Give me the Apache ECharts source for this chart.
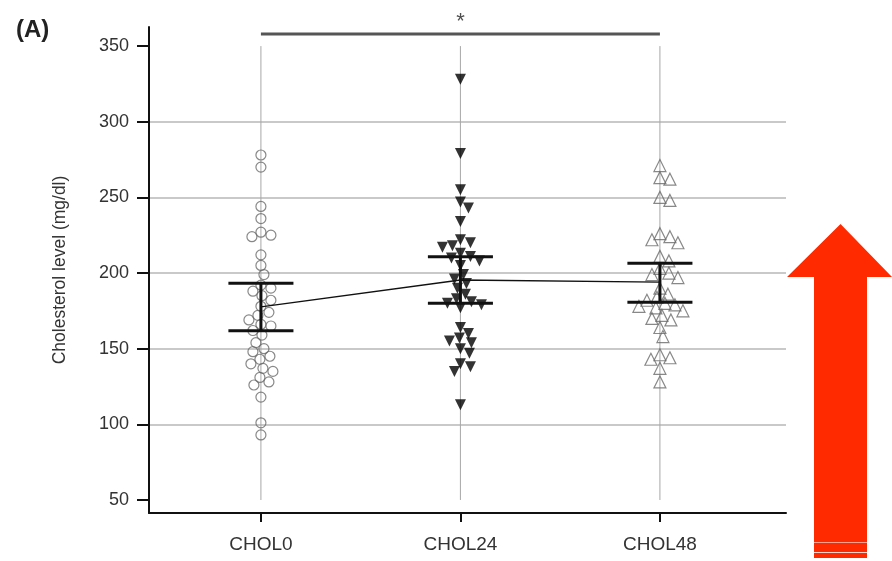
<!DOCTYPE html>
<html>
<head>
<meta charset="utf-8">
<script src="https://cdn.jsdelivr.net/npm/echarts@6/dist/echarts.min.js"></script>
<style>
  html, body { margin: 0; padding: 0; background: #fff; }
  #chart { width: 892px; height: 561px; }
</style>
</head>
<body>
<div id="chart"></div>
<script>
// ---- data -------------------------------------------------------------
const categories = ['CHOL0', 'CHOL24', 'CHOL48'];
const yTicks = [50, 100, 150, 200, 250, 300, 350];

const chol0 = [278, 270, 244, 236, 227, 225, 224, 212, 205, 199, 192, 190, 188, 185,
  182, 178, 174, 172, 169, 166, 165, 162, 159, 154, 150, 148, 145, 143, 140, 137,
  135, 131, 128, 126, 118, 101, 93];
const chol24 = [328, 279, 255, 247, 243, 234, 222, 220, 218, 217, 213, 211, 210, 208,
  205, 199, 196, 193, 190, 186, 183, 181, 180, 179, 177, 164, 160, 157, 155, 154,
  150, 147, 140, 138, 135, 113];
const chol48 = [271, 263, 262, 250, 248, 226, 224, 222, 220, 211, 208, 203, 200, 199,
  197, 190, 186, 184, 182, 180, 179, 178, 177, 175, 172, 170, 169, 164, 158, 146,
  144, 143, 137, 128];

// group means and confidence limits
const groupMeans = [177.6, 195.4, 194.0];
const ciLow = [161.9, 180.0, 180.7];
const ciHigh = [193.2, 210.8, 206.4];

// significance bracket between first and last group
const sigFrom = 0;
const sigTo = 2;
const sigLevel = 358;
const sigText = '*';

// ---- chart ------------------------------------------------------------
const FONT = 'Liberation Sans, Arial, Helvetica, sans-serif';
const groups = [chol0, chol24, chol48];
const markerStyles = [
  { symbol: 'circle', size: 10, rotate: 0, color: 'rgba(255,255,255,0)', border: '#6a6a6a' },
  { symbol: 'triangle', size: 11, rotate: 180, color: '#000', border: '#000' },
  { symbol: 'triangle', size: 12, rotate: 0, color: 'rgba(255,255,255,0)', border: '#6a6a6a' }
];

const chart = echarts.init(document.getElementById('chart'), null, { renderer: 'canvas' });

const capHalf = 0.163; // half width of error-bar caps, in category units

function baseOption(pointSeries) {
  return {
    animation: false,
    backgroundColor: '#fff',
    textStyle: { fontFamily: FONT },
    title: {
      text: '(A)', left: 11, top: 13,
      textStyle: { fontFamily: FONT, fontSize: 24, fontWeight: 'bold', color: '#222' }
    },
    grid: { left: 149, right: 106, top: 27, bottom: 48, containLabel: false },
    xAxis: {
      type: 'value', min: -0.561, max: 2.632,
      axisLine: { show: true, onZero: false, lineStyle: { color: '#111', width: 2 } },
      axisTick: { show: true, length: 9, customValues: categories.map((c, i) => i),
        lineStyle: { color: '#111', width: 2 } },
      axisLabel: { show: true, customValues: categories.map((c, i) => i),
        formatter: v => categories[Math.round(v)] || '', margin: 22,
        fontFamily: FONT, fontSize: 19, color: '#333' },
      splitLine: { show: false }
    },
    yAxis: {
      type: 'value', min: 41.4, max: 362.6,
      name: 'Cholesterol level (mg/dl)', nameLocation: 'middle', nameGap: 80,
      nameTextStyle: { fontFamily: FONT, fontSize: 17.5, color: '#333' },
      axisLine: { show: true, onZero: false, lineStyle: { color: '#111', width: 2 } },
      axisTick: { show: true, length: 12, customValues: yTicks,
        lineStyle: { color: '#111', width: 2 } },
      axisLabel: { show: true, customValues: yTicks, margin: 20,
        fontFamily: FONT, fontSize: 18, color: '#333' },
      splitLine: { show: true, showMinLine: false, showMaxLine: false,
        lineStyle: { color: '#c9c9c9', width: 2 } }
    },
    graphic: [
      {
        type: 'polygon', z: 100,
        shape: { points: [[840.5, 224], [892, 277], [867, 277], [867, 558], [814, 558], [814, 277], [787, 277]] },
        style: { fill: '#ff2a00' }
      },
      { type: 'line', z: 101, shape: { x1: 814, y1: 542.5, x2: 867, y2: 542.5 },
        style: { stroke: '#ff9f90', lineWidth: 1 } },
      { type: 'line', z: 101, shape: { x1: 814, y1: 552.5, x2: 867, y2: 552.5 },
        style: { stroke: '#ffd2cb', lineWidth: 1 } }
    ],
    series: [
      // vertical guide line through each group
      {
        type: 'custom', z: 1, silent: true,
        data: categories.map((c, i) => [i, yTicks[0], yTicks[yTicks.length - 1]]),
        renderItem: (params, api) => {
          const a = api.coord([api.value(0), api.value(1)]);
          const b = api.coord([api.value(0), api.value(2)]);
          return { type: 'line', shape: { x1: a[0], y1: a[1], x2: b[0], y2: b[1] },
            style: { stroke: '#a8a8a8', lineWidth: 1 } };
        }
      },
      ...pointSeries,
      // line joining the group means
      {
        type: 'line', z: 5, symbol: 'none',
        data: categories.map((c, i) => [i, groupMeans[i]]),
        lineStyle: { color: '#111', width: 1.3 }
      },
      // confidence-interval bars
      {
        type: 'custom', z: 6, silent: true,
        data: categories.map((c, i) => [i, ciLow[i], ciHigh[i]]),
        renderItem: (params, api) => {
          const x = api.value(0);
          const lo = api.coord([x, api.value(1)]);
          const hi = api.coord([x, api.value(2)]);
          const l = api.coord([x - capHalf, api.value(1)])[0];
          const r = api.coord([x + capHalf, api.value(1)])[0];
          const st = { stroke: '#111', lineWidth: 3 };
          return { type: 'group', children: [
            { type: 'line', shape: { x1: lo[0], y1: lo[1], x2: hi[0], y2: hi[1] }, style: st },
            { type: 'line', shape: { x1: l, y1: lo[1], x2: r, y2: lo[1] }, style: st },
            { type: 'line', shape: { x1: l, y1: hi[1], x2: r, y2: hi[1] }, style: st }
          ] };
        }
      },
      // significance bracket
      {
        type: 'line', z: 5, symbol: 'none',
        data: [[sigFrom, sigLevel], [sigTo, sigLevel]],
        lineStyle: { color: '#555', width: 3 }
      },
      {
        type: 'scatter', z: 5, symbolSize: 0,
        data: [[(sigFrom + sigTo) / 2, sigLevel]],
        label: { show: true, position: 'top', distance: 1, formatter: sigText,
          fontFamily: FONT, fontSize: 22, color: '#222' }
      }
    ]
  };
}

function pointSeriesFor(xs) {
  return groups.map((vals, g) => ({
    type: 'scatter', z: 3,
    symbol: markerStyles[g].symbol,
    symbolSize: markerStyles[g].size,
    symbolRotate: markerStyles[g].rotate,
    itemStyle: { color: markerStyles[g].color, borderColor: markerStyles[g].border,
      borderWidth: g === 1 ? 0 : 1.2 },
    data: vals.map((v, k) => [xs[g][k], v])
  }));
}

// first pass: points centred on their group
chart.setOption(baseOption(pointSeriesFor(groups.map((vals, g) => vals.map(() => g)))));

// second pass: spread overlapping points sideways (simple beeswarm in pixel space)
function swarm(vals, g, diam) {
  const px0 = chart.convertToPixel({ gridIndex: 0 }, [g, 0])[0];
  const unit = chart.convertToPixel({ gridIndex: 0 }, [g + 1, 0])[0] - px0;
  const order = vals.map((v, i) => i).sort((a, b) => vals[b] - vals[a]);
  const placed = [];
  const xs = new Array(vals.length);
  order.forEach(i => {
    const py = chart.convertToPixel({ gridIndex: 0 }, [g, vals[i]])[1];
    let off = 0;
    for (let k = 0; k < 200; k++) {
      const cand = (k % 2 ? 1 : -1) * Math.ceil(k / 2);
      const ok = placed.every(p => (p[0] - cand) ** 2 + (p[1] - py) ** 2 >= diam * diam);
      if (ok) { off = cand; break; }
    }
    placed.push([off, py]);
    xs[i] = g + off / unit;
  });
  return xs;
}

const spread = groups.map((vals, g) => swarm(vals, g, 9.5));
chart.setOption(baseOption(pointSeriesFor(spread)), true);
</script>
</body>
</html>
